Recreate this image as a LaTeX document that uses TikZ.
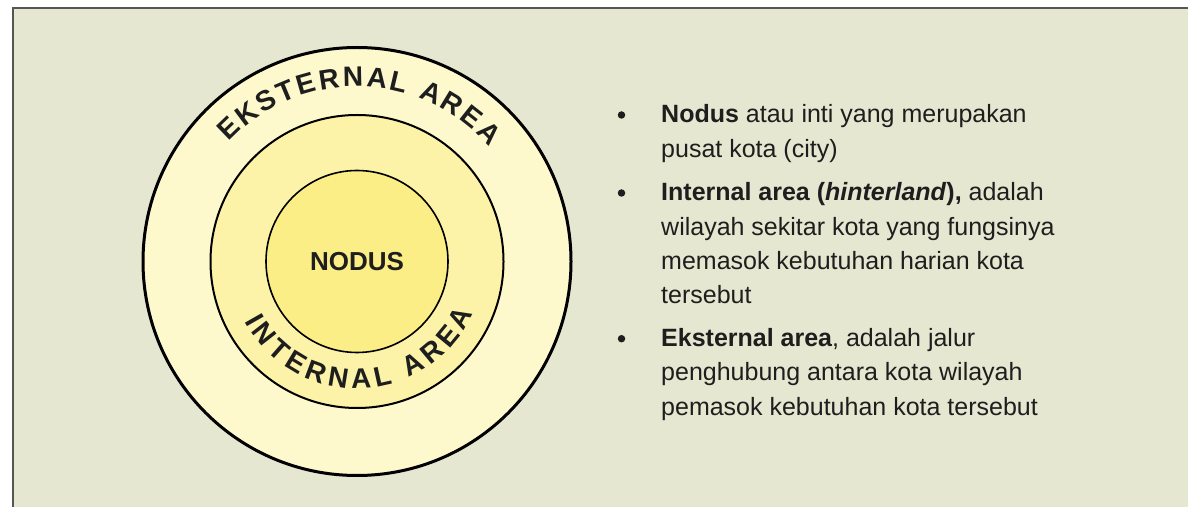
\documentclass[tikz,border=0pt]{standalone}
\usepackage{fontspec}
\setmainfont{Liberation Sans}
\usetikzlibrary{positioning,decorations.text}
\definecolor{paper}{HTML}{E5E7D0}
\definecolor{framegray}{HTML}{555555}
\definecolor{outerring}{HTML}{FDF9CC}
\definecolor{midring}{HTML}{FCF3A8}
\definecolor{core}{HTML}{FBEE86}
\definecolor{textdark}{HTML}{1E1E1E}
\begin{document}
\begin{tikzpicture}[x=1pt, y=1pt]
    \tikzstyle{ring} = [circle, draw=black, inner sep=0pt]
    \tikzstyle{arclabel} = [decorate, decoration={text along path, text align=fit to path, text color=textdark}]
    \tikzstyle{item} = [align=left, inner sep=0pt, anchor=base west, text=textdark, font=\fontsize{25}{34.3}\selectfont]
    \tikzstyle{dot} = [circle, fill=textdark, inner sep=0pt, minimum size=7.5pt]

    \useasboundingbox (0,0) rectangle (1188,506);
    \clip (0,0) rectangle (1188,506);
    \fill [white] (0,0) rectangle (1188,506);
    \draw [fill=paper, draw=framegray, line width=1.3pt] (13,-10) rectangle (1200,498);

    % rings
    \node [ring, fill=outerring, line width=3pt, minimum size=428pt] (outer) at (357,244.5) {};
    \node [ring, fill=midring, line width=2pt, minimum size=293pt] (internal) at (outer.center) {};
    \node [ring, fill=core, line width=1.6pt, minimum size=182pt] (core) at (outer.center) {};
    \node [text=textdark, font=\fontsize{26}{26}\selectfont\bfseries] (nodus) at (core.center) {NODUS};

    \path [arclabel, decoration={text={|\fontsize{28}{28}\selectfont\bfseries|EKSTERNAL AREA}}]
        ([shift={(137:175)}]outer.center) arc [start angle=137, end angle=41, radius=175];
    \path [arclabel, decoration={text={|\fontsize{28}{28}\selectfont\bfseries|INTERNAL AREA}}]
        ([shift={(208:127)}]outer.center) arc [start angle=208, end angle=336, radius=127];

    % legend (base = last line)
    \node [dot] (dot1) at (621.5,391) {};
    \node [dot] (dot2) at (621.5,313) {};
    \node [dot] (dot3) at (621.5,167.3) {};
    \node [item] (item1) at (661,348.7) {\textbf{Nodus} atau inti yang merupakan\\pusat kota (city)};
    \node [item] (item2) at (661,202.1) {\textbf{Internal area (\textit{hinterland}),} adalah\\wilayah sekitar kota yang fungsinya\\memasok kebutuhan harian kota\\tersebut};
    \node [item] (item3) at (661,90.7) {\textbf{Eksternal area}, adalah jalur\\penghubung antara kota wilayah\\pemasok kebutuhan kota tersebut};
\end{tikzpicture}
\end{document}
